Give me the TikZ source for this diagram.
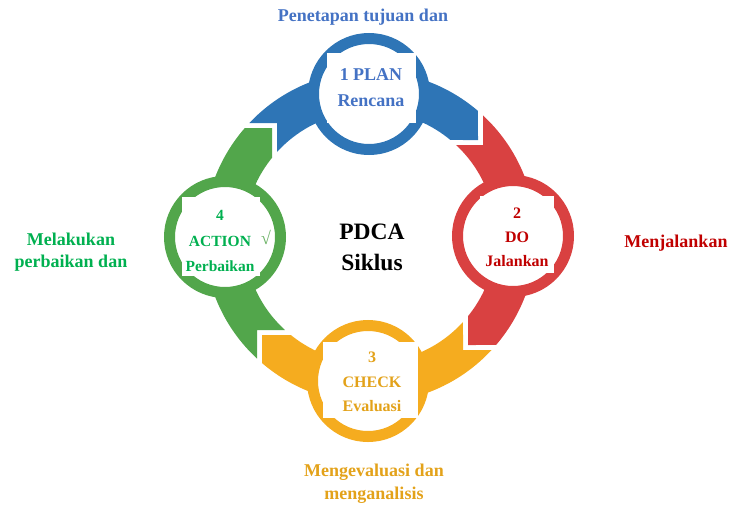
\documentclass[tikz,border=0pt]{standalone}
\usepackage{fontspec}
\setmainfont{Liberation Serif}
\definecolor{cBlue}{HTML}{2E75B6}
\definecolor{cRed}{HTML}{D94141}
\definecolor{cYellow}{HTML}{F5AC1F}
\definecolor{cGreen}{HTML}{52A64B}
\definecolor{tBlue}{HTML}{4472C4}
\definecolor{tRed}{HTML}{C00000}
\definecolor{tYellow}{HTML}{E3A21A}
\definecolor{tGreen}{HTML}{00B050}
\begin{document}
\begin{tikzpicture}[x=1pt,y=1pt,
  ringnode/.style={circle, line width=11pt, fill=white, minimum size=111pt, inner sep=0pt},
  whitebox/.style={rectangle, fill=white, inner sep=0pt},
  lbl/.style={font=\bfseries\fontsize{#1}{#1}\selectfont, align=center, inner sep=0pt},
  lbl/.default=18]
\useasboundingbox (0,0) rectangle (732,-507);

% four arc segments of the cycle, each with a notched tail and a pointed head
\begin{scope}[shift={(370,-237)}]
  \fill[cBlue] (-93,114) -- (136.63:166) arc[start angle=136.63,end angle=49.42,radius=166]
    -- (108,97) -- (50.35:126) arc[start angle=50.35,end angle=137.57,radius=126] -- cycle;
  \fill[cRed] (113,92) -- (47.10:166) arc[start angle=47.10,end angle=-40.58,radius=166]
    -- (98,-108) -- (-38.94:126) arc[start angle=-38.94,end angle=46.89,radius=126] -- cycle;
  \fill[cYellow] (93,-113) -- (-42.90:166) arc[start angle=-42.90,end angle=-130.58,radius=166]
    -- (-108,-98) -- (-128.94:126) arc[start angle=-128.94,end angle=-42.43,radius=126] -- cycle;
  \fill[cGreen] (-113,-93) -- (-132.90:166) arc[start angle=-132.90,end angle=-221.04,radius=166]
    -- (-98,109) -- (-218.94:126) arc[start angle=-218.94,end angle=-132.43,radius=126] -- cycle;
\end{scope}

% stage rings
\node (planring)   [ringnode, draw=cBlue]   at (369,-94) {};
\node (doring)     [ringnode, draw=cRed]    at (513,-236) {};
\node (checkring)  [ringnode, draw=cYellow] at (368,-381) {};
\node (actionring) [ringnode, draw=cGreen]  at (225,-237) {};

% white label panels
\node (planbox)   [whitebox, minimum width=89pt, minimum height=70pt] at (371.5,-88) {};
\node (dobox)     [whitebox, minimum width=74pt, minimum height=77pt] at (517,-234.5) {};
\node (checkbox)  [whitebox, minimum width=95pt, minimum height=76pt] at (370.5,-380) {};
\node (actionbox) [whitebox, minimum width=78pt, minimum height=79pt] at (221,-236.5) {};

% stage labels
\node (plantext)   [lbl=18, text=tBlue, execute at begin node=\setlength{\baselineskip}{26pt}] at (371,-88) {1 PLAN\\Rencana};
\node (dotext)     [lbl=16, text=tRed, execute at begin node=\setlength{\baselineskip}{24pt}] at (517,-237) {2\\DO\\Jalankan};
\node (checktext)  [lbl=16, text=tYellow, execute at begin node=\setlength{\baselineskip}{24.5pt}] at (372,-382) {3\\CHECK\\Evaluasi};
\node (actiontext) [lbl=15.5, text=tGreen, execute at begin node=\setlength{\baselineskip}{25.5pt}] at (220,-241) {4\\ACTION\\Perbaikan};
\node (tick) [font=\fontsize{18}{18}\selectfont, text=cGreen!85!white, inner sep=0pt] at (266,-237) {√};

% centre title
\node (title) [lbl=23.5, text=black, execute at begin node=\setlength{\baselineskip}{31pt}] at (372,-247) {PDCA\\Siklus};

% outer descriptions
\node (plandesc)   [lbl=18, text=tBlue] at (363,-17) {Penetapan tujuan dan};
\node (dodesc)     [lbl=18, text=tRed] at (676,-243) {Menjalankan};
\node (checkdesc)  [lbl=18, text=tYellow, execute at begin node=\setlength{\baselineskip}{23pt}] at (374,-484) {Mengevaluasi dan\\menganalisis};
\node (actiondesc) [lbl=18, text=tGreen, execute at begin node=\setlength{\baselineskip}{22pt}] at (71,-252) {Melakukan\\perbaikan dan};
\end{tikzpicture}
\end{document}
